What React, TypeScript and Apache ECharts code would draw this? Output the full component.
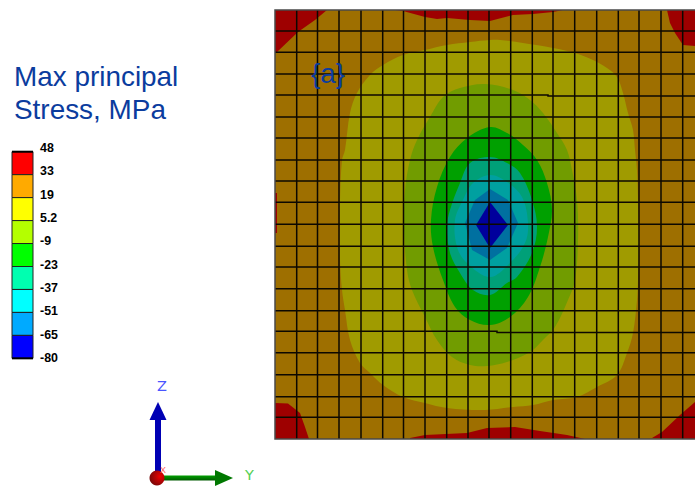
import React, { useEffect, useRef } from "react";
import * as echarts from "echarts";

// Plate extent visible in the picture (model units)
const plateWidth = 420;
const plateHeight = 429;

// Mesh lines
const meshColumns = [21.7, 42.5, 64, 86, 107.7, 128.5, 150, 171.7, 193, 214, 235.7, 257.3, 278, 299.7, 321.7, 343.3, 364, 386, 407.7];
const meshRows = [21, 42.3, 64, 85, 107, 128, 150, 171, 192.3, 214.3, 236.3, 257, 278.7, 300.7, 321.3, 342.7, 364.7, 386.7, 407.3];
// [row value, column where the line jogs, row value after the jog]
const meshJogs = [
  [85, 273, 86],
  [321.3, 222, 322.5],
];

// Contour bands
const bandBase = [[0, 0], [420, 0], [420, 429], [0, 429]];
const bandOlive = [
  [70, 140], [75, 103], [82, 83], [95, 65], [108, 55], [128, 45], [150, 40], [172, 35], [195, 32], [215, 30],
  [225, 30], [248, 33], [278, 38], [300, 43], [318, 50], [332, 58], [342, 67], [348, 83], [353, 103], [358, 120],
  [360, 140], [362, 160], [363, 190], [364, 230], [363, 270], [362, 290], [358, 323], [352, 343], [342, 365],
  [322, 377], [302, 387], [278, 390], [258, 395], [238, 397], [210, 400], [172, 398], [150, 393], [128, 387],
  [108, 375], [95, 363], [85, 353], [75, 330], [70, 300], [67, 280], [65, 250], [65, 210], [65, 190], [67, 150],
];
const bandLime = [
  [129, 220], [130, 180], [135, 150], [142, 130], [155, 107], [168, 87], [185, 78], [210, 74], [238, 80], [255, 90],
  [268, 103], [282, 123], [292, 140], [297, 160], [302, 190], [303, 230], [300, 270], [293, 290], [280, 317],
  [268, 330], [255, 342], [232, 352], [212, 356], [195, 355], [177, 347], [162, 330], [150, 307], [137, 280], [132, 260],
];
const bandGreen = [
  [215, 117], [232, 123], [248, 135], [262, 150], [272, 173], [277, 200], [273, 227], [265, 257], [253, 287],
  [235, 307], [215, 315], [195, 310], [180, 297], [168, 270], [158, 237], [156, 210], [162, 177], [175, 147], [192, 128],
];
const bandTeal = [
  [215, 147], [232, 153], [245, 163], [257, 190], [262, 217], [257, 243], [242, 267], [232, 273], [215, 285],
  [198, 280], [185, 263], [175, 243], [172, 217], [175, 200], [185, 173], [195, 153],
];
const bandCyan = [
  [215, 165], [232, 172], [247, 187], [253, 213], [250, 233], [235, 253], [215, 267], [192, 253], [182, 237],
  [180, 210], [188, 190], [198, 173],
];
const bandBlue = [[215, 179], [233, 190], [243, 213], [232, 238], [215, 250], [197, 240], [190, 213], [200, 190]];
const bandNavy = [[215, 192], [233, 215], [215, 238], [201, 215]];
const redTopLeft = [[0, 0], [52, 0], [40, 10], [23, 22], [2, 42], [0, 42]];
const redTopRight = [[392, 0], [395, 13], [400, 23], [408, 35], [420, 36], [420, 0]];
const redTopStrip = [[120, 0], [128, 1], [150, 7], [162, 9], [172, 8], [195, 10], [215, 11], [238, 5], [258, 4], [278, 2], [288, 0]];
const redBottomLeft = [[0, 393], [13, 393.5], [25, 403], [30, 417], [34, 429], [0, 429]];
const redBottomStrip = [[135, 428], [150, 425], [192, 423], [212, 418], [240, 417], [265, 421], [292, 425], [310, 429], [135, 429]];
const redBottomRight = [[377, 428], [387, 422], [405, 405], [420, 392], [420, 429]];
const redLeftSliver = [[0, 183], [2, 183], [2, 223], [0, 223]];

const shadedBase = "#9e6f00";
const shadedOlive = "#a09b00";
const shadedLime = "#719c00";
const shadedGreen = "#00a000";
const shadedTeal = "#00a078";
const shadedCyan = "#00a0a0";
const shadedBlue = "#0070a0";
const shadedNavy = "#00009c";
const shadedRed = "#9e0000";

// polygon, colour, rounded outline
const bands: [number[][], string, boolean][] = [
  [bandBase, shadedBase, false],
  [redTopLeft, shadedRed, false],
  [redTopRight, shadedRed, false],
  [redTopStrip, shadedRed, false],
  [redBottomLeft, shadedRed, false],
  [redBottomStrip, shadedRed, false],
  [redBottomRight, shadedRed, false],
  [redLeftSliver, shadedRed, false],
  [bandOlive, shadedOlive, true],
  [bandLime, shadedLime, true],
  [bandGreen, shadedGreen, true],
  [bandTeal, shadedTeal, true],
  [bandCyan, shadedCyan, true],
  [bandBlue, shadedBlue, false],
  [bandNavy, shadedNavy, false],
];

// Legend
const legendLabels = ["48", "33", "19", "5.2", "-9", "-23", "-37", "-51", "-65", "-80"];
const legendColors = ["#ff0000", "#ffaa00", "#ffff00", "#b4ff00", "#00ff00", "#00ffb0", "#00ffff", "#00aaff", "#0000ff"];

const titleLines = "Max principal\nStress, MPa";
const panelLabel = "{a}";
const textBlue = "#0b3c9e";
const FONT = '"Liberation Sans", Arial, sans-serif';

function buildOption() {
  const barLeft = 12;
  const barTop = 151.7;
  const barStep = 22.96;
  const graphic: any[] = [
    {
      type: "text", x: 14, y: 60, z: 10,
      style: { text: titleLines, font: `27.9px ${FONT}`, fill: textBlue, lineHeight: 33 },
    },
    {
      type: "text", x: 311, y: 59, z: 10,
      style: { text: panelLabel, font: `27.9px ${FONT}`, fill: textBlue },
    },
  ];
  legendColors.forEach((c, i) => {
    graphic.push({
      type: "rect", z: 5,
      shape: { x: barLeft, y: barTop + i * barStep, width: 21, height: barStep },
      style: { fill: c, stroke: "#222", lineWidth: 1 },
    });
  });
  graphic.push({ type: "line", z: 6, shape: { x1: barLeft, y1: barTop, x2: barLeft + 21, y2: barTop }, style: { stroke: "#000", lineWidth: 2 } });
  graphic.push({ type: "line", z: 6, shape: { x1: barLeft, y1: barTop + 9 * barStep, x2: barLeft + 21, y2: barTop + 9 * barStep }, style: { stroke: "#000", lineWidth: 2 } });
  legendLabels.forEach((t, i) => {
    graphic.push({
      type: "text", x: 40, y: 148 + i * 23.35, z: 6,
      style: { text: t, font: `bold 12.4px ${FONT}`, fill: "#000", verticalAlign: "middle" },
    });
  });
  // Orientation triad
  graphic.push(
    { type: "rect", z: 6, shape: { x: 155, y: 420, width: 6, height: 58 }, style: { fill: "#0000b4" } },
    { type: "polygon", z: 6, shape: { points: [[158, 402], [166.5, 420], [149.5, 420]] }, style: { fill: "#0000b4" } },
    {
      type: "rect", z: 6, shape: { x: 160, y: 475.5, width: 56, height: 5 },
      style: { fill: new echarts.graphic.LinearGradient(0, 0, 0, 1, [{ offset: 0, color: "#00a000" }, { offset: 1, color: "#005a00" }]) },
    },
    { type: "polygon", z: 6, shape: { points: [[215, 470], [233, 478], [215, 486]] }, style: { fill: "#007800" } },
    {
      type: "circle", z: 7, shape: { cx: 157, cy: 478, r: 7.5 },
      style: {
        fill: new echarts.graphic.RadialGradient(0.7, 0.4, 0.75, [
          { offset: 0, color: "#ee0000" },
          { offset: 1, color: "#700808" },
        ]),
      },
    },
    { type: "text", x: 160, y: 465, z: 8, style: { text: "X", font: `9px ${FONT}`, fill: "#ff6060" } },
    { type: "text", x: 157, y: 378, z: 8, style: { text: "Z", font: `14.5px "DejaVu Sans"`, fill: "#4a55ff" } },
    { type: "text", x: 245, y: 467, z: 8, style: { text: "Y", font: `14.5px "DejaVu Sans"`, fill: "#55d055" } },
  );

  const meshPaths: number[][][] = [
    ...meshColumns.map((x) => [[x, 0], [x, plateHeight]]),
    ...meshRows.map((y) => {
      const jog = meshJogs.find((j) => j[0] === y);
      return jog
        ? [[0, y], [jog[1], y], [jog[1], jog[2]], [plateWidth, jog[2]]]
        : [[0, y], [plateWidth, y]];
    }),
  ];
  const framePaths: number[][][] = [
    [[plateWidth, 0], [0, 0], [0, plateHeight], [plateWidth, plateHeight]],
  ];

  return {
    animation: false,
    backgroundColor: "#ffffff",
    grid: { left: 275, top: 10, width: plateWidth, height: plateHeight, containLabel: false },
    xAxis: { type: "value", min: 0, max: plateWidth, show: false },
    yAxis: { type: "value", min: 0, max: plateHeight, inverse: true, show: false },
    graphic,
    series: [
      {
        type: "custom",
        silent: true,
        clip: true,
        z: 2,
        data: bands.map((_, i) => [i]),
        encode: { x: -1, y: -1 },
        renderItem: (p: any, api: any) => {
          const [pts, color, rounded] = bands[p.dataIndex];
          return {
            type: "polygon",
            shape: { points: pts.map((q) => api.coord(q)), smooth: rounded ? 0.35 : 0 },
            style: { fill: color, stroke: "none" },
          };
        },
      },
      {
        type: "custom",
        silent: true,
        clip: true,
        z: 3,
        data: meshPaths.map((_, i) => [i]),
        encode: { x: -1, y: -1 },
        renderItem: (p: any, api: any) => ({
          type: "polyline",
          shape: { points: meshPaths[p.dataIndex].map((q) => api.coord(q)) },
          style: { fill: "none", stroke: "#0c0800", lineWidth: 1.5 },
        }),
      },
      {
        type: "custom",
        silent: true,
        clip: false,
        z: 4,
        data: framePaths.map((_, i) => [i]),
        encode: { x: -1, y: -1 },
        renderItem: (p: any, api: any) => ({
          type: "polyline",
          shape: { points: framePaths[p.dataIndex].map((q) => api.coord(q)) },
          style: { fill: "none", stroke: "#4a4a4a", lineWidth: 1.5 },
        }),
      },
    ],
  };
}

export default function App() {
  const ref = useRef<HTMLDivElement>(null);
  useEffect(() => {
    const chart = echarts.init(ref.current!, undefined, { renderer: "svg" });
    chart.setOption(buildOption() as any);
    return () => chart.dispose();
  }, []);
  return <div ref={ref} style={{ position: "absolute", left: 0, top: 0, width: 695, height: 486 }} />;
}
